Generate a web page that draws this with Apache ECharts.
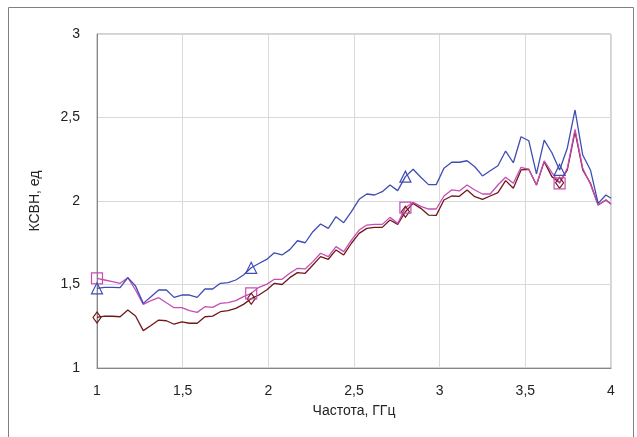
<!DOCTYPE html>
<html>
<head>
<meta charset="utf-8">
<script src="https://cdn.jsdelivr.net/npm/echarts@6/dist/echarts.min.js"></script>
<style>
  html, body { margin: 0; padding: 0; background: #fff; }
  #chart { width: 637px; height: 437px; }
</style>
</head>
<body>
<div id="chart"></div>
<script>
// frequency grid, GHz
const freq = [1, 1.045, 1.09, 1.135, 1.18, 1.225, 1.27, 1.315, 1.36, 1.405,
  1.45, 1.495, 1.54, 1.585, 1.63, 1.675, 1.72, 1.765, 1.81, 1.855,
  1.9, 1.945, 1.99, 2.035, 2.08, 2.125, 2.17, 2.215, 2.26, 2.305,
  2.35, 2.395, 2.44, 2.485, 2.53, 2.575, 2.62, 2.665, 2.71, 2.755,
  2.8, 2.845, 2.89, 2.935, 2.98, 3.025, 3.07, 3.115, 3.16, 3.205,
  3.25, 3.295, 3.34, 3.385, 3.43, 3.475, 3.52, 3.565, 3.61, 3.655,
  3.7, 3.745, 3.79, 3.835, 3.88, 3.925, 3.97, 4];

const vswrBlue = [1.477, 1.483, 1.483, 1.481, 1.541, 1.491, 1.387, 1.427, 1.467, 1.467,
  1.423, 1.437, 1.437, 1.423, 1.473, 1.473, 1.507, 1.511, 1.527, 1.557,
  1.600, 1.626, 1.650, 1.690, 1.677, 1.709, 1.762, 1.750, 1.816, 1.862,
  1.836, 1.906, 1.870, 1.936, 2.010, 2.042, 2.036, 2.056, 2.096, 2.062,
  2.146, 2.190, 2.142, 2.098, 2.098, 2.196, 2.232, 2.232, 2.241, 2.205,
  2.150, 2.181, 2.211, 2.299, 2.229, 2.385, 2.361, 2.162, 2.365, 2.289,
  2.186, 2.316, 2.545, 2.275, 2.186, 1.986, 2.036, 2.016];

const vswrMagenta = [1.537, 1.527, 1.517, 1.507, 1.541, 1.467, 1.381, 1.403, 1.421, 1.391,
  1.361, 1.361, 1.343, 1.333, 1.367, 1.363, 1.387, 1.391, 1.403, 1.427,
  1.447, 1.483, 1.501, 1.531, 1.531, 1.567, 1.597, 1.593, 1.637, 1.687,
  1.667, 1.727, 1.697, 1.766, 1.826, 1.856, 1.860, 1.860, 1.902, 1.866,
  1.960, 1.992, 1.968, 1.952, 1.952, 2.030, 2.066, 2.060, 2.096, 2.066,
  2.042, 2.042, 2.096, 2.142, 2.106, 2.202, 2.190, 2.096, 2.240, 2.170,
  2.106, 2.196, 2.429, 2.196, 2.100, 1.976, 2.006, 1.982];

const vswrRed = [1.303, 1.311, 1.310, 1.307, 1.347, 1.311, 1.224, 1.255, 1.287, 1.283,
  1.262, 1.276, 1.268, 1.268, 1.307, 1.311, 1.337, 1.343, 1.357, 1.381,
  1.415, 1.437, 1.467, 1.507, 1.500, 1.541, 1.571, 1.567, 1.617, 1.667,
  1.651, 1.707, 1.677, 1.747, 1.806, 1.836, 1.842, 1.842, 1.886, 1.860,
  1.936, 1.986, 1.956, 1.916, 1.914, 2.006, 2.030, 2.028, 2.066, 2.026,
  2.010, 2.030, 2.050, 2.122, 2.076, 2.186, 2.190, 2.096, 2.236, 2.146,
  2.110, 2.186, 2.415, 2.186, 2.106, 1.976, 2.006, 1.982];

// a marker is drawn every 20th sample
const markerEvery = 20;

const chart = echarts.init(document.getElementById('chart'));
const comma = v => String(v).replace('.', ',');
const pairs = ys => freq.map((f, i) => [f, ys[i]]);

function line(name, ys, color, symbol, size) {
  return {
    name, type: 'line', data: pairs(ys),
    showAllSymbol: true,
    symbol: (v, p) => (p.dataIndex % markerEvery === 0 && p.dataIndex < ys.length - 1) ? symbol : 'none',
    symbolSize: size,
    lineStyle: { color, width: 1.3 },
    itemStyle: { color: 'rgba(255,255,255,0)', borderColor: color, borderWidth: 1.2 },
    emphasis: { disabled: true },
    animation: false
  };
}

chart.setOption({
  backgroundColor: '#fff',
  textStyle: { fontFamily: 'Liberation Sans, Arial, sans-serif' },
  graphic: [{
    type: 'rect', shape: { x: 8.5, y: 7.5, width: 625, height: 440 },
    style: { fill: 'none', stroke: '#808080', lineWidth: 1 }, silent: true
  }],
  grid: { left: 97, right: 26, top: 34, bottom: 69, show: true, borderColor: '#a6a6a6', borderWidth: 1 },
  xAxis: {
    type: 'value', min: 1, max: 4, interval: 0.5,
    name: 'Частота, ГГц', nameLocation: 'middle', nameGap: 36,
    nameTextStyle: { fontSize: 14, color: '#222' },
    axisLine: { lineStyle: { color: '#868686' } },
    axisTick: { show: false },
    axisLabel: { fontSize: 14, color: '#222', margin: 16, formatter: comma },
    splitLine: { lineStyle: { color: '#d9d9d9' } }
  },
  yAxis: {
    type: 'value', min: 1, max: 3, interval: 0.5,
    name: 'КСВН, ед', nameLocation: 'middle', nameGap: 55, nameRotate: 90,
    nameTextStyle: { fontSize: 14, color: '#222' },
    axisLine: { show: true, lineStyle: { color: '#868686' } },
    axisTick: { show: false },
    axisLabel: { fontSize: 14, color: '#222', margin: 17, formatter: comma },
    splitLine: { lineStyle: { color: '#d9d9d9' } }
  },
  series: [
    line('red', vswrRed, '#701818', 'diamond', [8, 11]),
    line('magenta', vswrMagenta, '#c84cb4', 'rect', 11),
    line('blue', vswrBlue, '#3f4db3', 'triangle', 11)
  ]
});
</script>
</body>
</html>
